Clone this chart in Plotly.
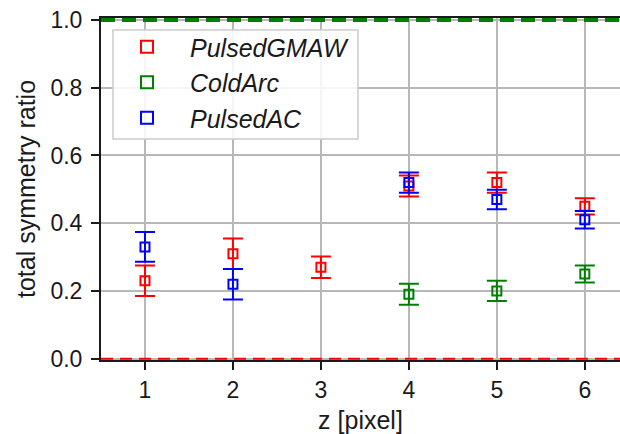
import plotly.graph_objects as go

z = [1, 2, 3, 4, 5, 6]
x_ticks = [1, 2, 3, 4, 5, 6]
y_ticks = [0.0, 0.2, 0.4, 0.6, 0.8, 1.0]
y_tick_labels = ["0.0", "0.2", "0.4", "0.6", "0.8", "1.0"]

series_names = ["PulsedGMAW", "ColdArc", "PulsedAC"]
pulsed_gmaw = [0.23, 0.31, 0.27, 0.51, 0.52, 0.45]
pulsed_gmaw_err = [0.045, 0.045, 0.032, 0.031, 0.030, 0.024]
cold_arc = [None, None, None, 0.19, 0.20, 0.25]
cold_arc_err = [None, None, None, 0.031, 0.030, 0.025]
pulsed_ac = [0.33, 0.22, None, 0.52, 0.47, 0.41]
pulsed_ac_err = [0.044, 0.045, None, 0.030, 0.029, 0.026]

ref_lines = [0.0, 1.0]
ref_colors = ["#ff0000", "#008000"]

colors = ["#ff0000", "#008000", "#0000ff"]
values = [pulsed_gmaw, cold_arc, pulsed_ac]
errors = [pulsed_gmaw_err, cold_arc_err, pulsed_ac_err]

FONT = "Liberation Sans, Arial, sans-serif"
W, H = 620, 434
ML, MR, MT, MB = 101, 0, 18, 74
PW, PH = W - ML - MR, H - MT - MB

fig = go.Figure()
for name, col, v, e in zip(series_names, colors, values, errors):
    fig.add_trace(go.Scatter(
        x=z, y=v, name=name, mode="markers",
        marker=dict(symbol="square-open", size=9, color=col, line=dict(width=2, color=col)),
        error_y=dict(type="data", array=e, visible=True, color=col, thickness=2, width=10),
    ))

fig.add_hline(y=ref_lines[0], line=dict(color=ref_colors[0], width=2, dash="12px,7px"), layer="above")
fig.add_hline(y=ref_lines[1], line=dict(color=ref_colors[1], width=4, dash="14px,7px"), layer="above")

# legend frame (pixel box converted to paper coords)
lx0, lx1, ly0, ly1 = 113, 358, 30, 139
fig.add_shape(type="rect", xref="paper", yref="paper",
              x0=(lx0 - ML) / PW, x1=(lx1 - ML) / PW,
              y0=(H - MB - ly1) / PH, y1=(H - MB - ly0) / PH,
              fillcolor="rgba(255,255,255,0.85)", line=dict(color="#cccccc", width=1.5),
              layer="above")

axis_common = dict(
    showline=True, linecolor="#1a1a1a", linewidth=2, mirror=True,
    ticks="outside", ticklen=8, tickwidth=2, tickcolor="#1a1a1a",
    showgrid=True, gridcolor="#b8b8b8", gridwidth=2, zeroline=False,
    tickfont=dict(size=23, color="#1a1a1a", family=FONT),
    automargin=False,
)

fig.update_xaxes(range=[0.5, 6.4], tickvals=x_ticks,
                 title=dict(text="z [pixel]", font=dict(size=25, color="#1a1a1a", family=FONT), standoff=12),
                 **axis_common)
fig.update_yaxes(range=[-0.004, 1.006], tickvals=y_ticks, ticktext=y_tick_labels, ticklabelstandoff=4,
                 title=dict(text="total symmetry ratio", font=dict(size=25, color="#1a1a1a", family=FONT), standoff=8),
                 **axis_common)

fig.update_layout(
    width=W, height=H,
    margin=dict(l=ML, r=MR, t=MT, b=MB, autoexpand=False),
    paper_bgcolor="white", plot_bgcolor="white",
    font=dict(family=FONT, color="#1a1a1a"),
    showlegend=True,
    legend=dict(
        x=(104 - ML) / PW, y=(H - MB - 24) / PH, xanchor="left", yanchor="top",
        bgcolor="rgba(0,0,0,0)", borderwidth=0,
        font=dict(size=25, family=FONT, style="italic", color="#1a1a1a"),
        itemsizing="constant", itemwidth=76,
    ),
)

fig.write_html("out.html", config={"displayModeBar": False},
               post_script="document.body.style.margin='0';document.body.style.overflow='hidden';")
